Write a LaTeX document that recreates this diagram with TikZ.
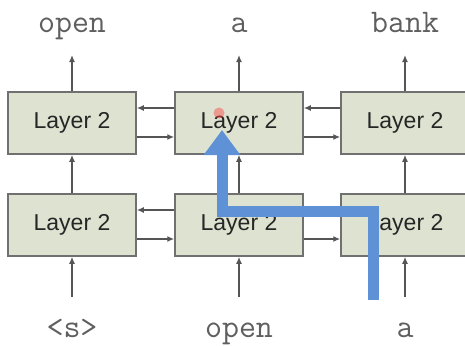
\documentclass[tikz,border=0pt]{standalone}
\usepackage{fontspec}
\setmainfont{Liberation Sans}
\usetikzlibrary{arrows.meta}
\definecolor{boxfill}{RGB}{221,227,208}
\definecolor{boxline}{RGB}{112,112,112}
\definecolor{wire}{RGB}{85,85,85}
\definecolor{route}{RGB}{95,145,215}
\definecolor{word}{RGB}{95,95,95}
\tikzset{
    layer/.style={draw=boxline,line width=1.5pt,fill=boxfill,minimum width=128pt,minimum height=62pt,
        font=\fontsize{23}{23}\selectfont,text=black!85},
    wire/.style={draw=wire,line width=1.5pt,-{Latex[length=7pt,width=6pt]}},
    token/.style={font=\ttfamily\fontsize{33}{33}\selectfont,text=word,inner sep=0pt,anchor=base},
}

\begin{document}
\begin{tikzpicture}[x=1pt,y=-1pt]
        \useasboundingbox (0,0) rectangle (465,345);
        \foreach \k/\x/\outw/\inw in {1/72/open/{<s>},2/239/a/open,3/405/bank/a}{
            \node[layer] (up\k) at (\x,123) {Layer 2};
            \node[layer] (lo\k) at (\x,225) {Layer 2};
            \node[token] (out\k) at (\x,33) {\outw};
            \node[token] (in\k) at (\x,337) {\inw};
            \coordinate (hd\k) at (\x,55);
            \coordinate (tl\k) at (\x,297);
        }
        \foreach \k in {1,2,3}{
            \draw[wire] (up\k) -- (hd\k);
            \draw[wire] (lo\k) -- (up\k);
            \draw[wire] (tl\k) -- (lo\k);
        }
        \foreach \a/\b in {1/2,2/3}{
            \foreach \row in {up,lo}{
                \draw[wire] ([yshift=15pt]\row\b.west) -- ([yshift=15pt]\row\a.east); % back
                \draw[wire] ([yshift=-14pt]\row\a.east) -- ([yshift=-14pt]\row\b.west); % forward
            }
        }
        % path through the net
        \coordinate (start) at (373,300);
        \coordinate (turn1) at (373,211);
        \coordinate (turn2) at (222,211);
        \coordinate (goal) at (222,130);
        \draw[route,line width=11pt,line join=miter,-{Triangle[length=25pt,width=35pt]}]
            (start) -- (turn1) -- (turn2) -- (goal);
        \fill[red!75,opacity=.45] (219,113) circle (5.5pt);
\end{tikzpicture}
\end{document}
